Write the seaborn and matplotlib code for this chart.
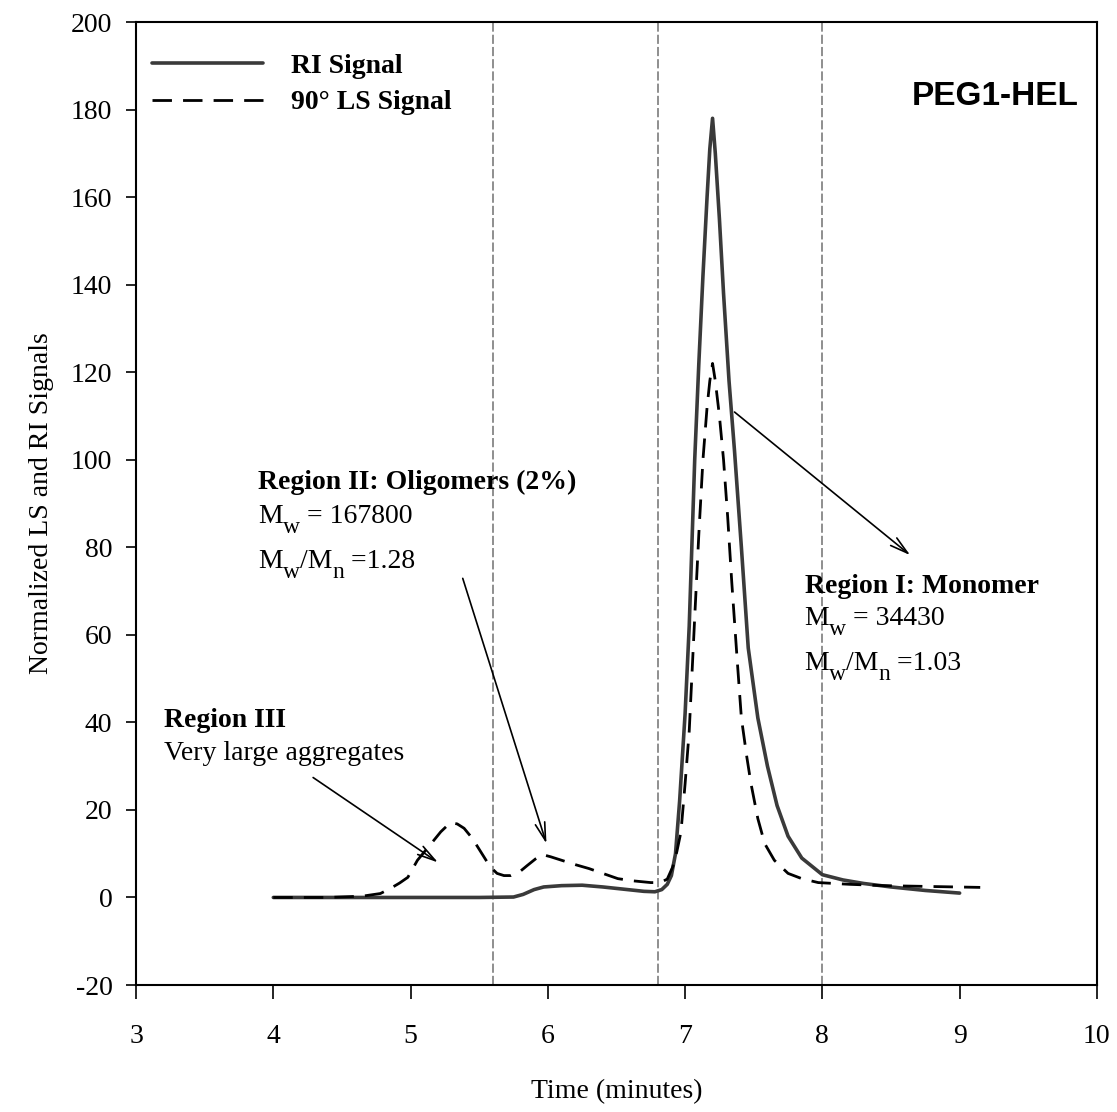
import matplotlib
matplotlib.use("Agg")
import matplotlib.pyplot as plt
import seaborn as sns

# RI signal (solid)
ri_time = [4.0, 4.5, 5.0, 5.5, 5.75, 5.82, 5.9, 5.97, 6.1, 6.25, 6.4, 6.55, 6.7, 6.78,
           6.83, 6.87, 6.9, 6.93, 6.96, 7.0, 7.03, 7.07, 7.1, 7.13, 7.16, 7.18, 7.2,
           7.22, 7.25, 7.28, 7.32, 7.36, 7.41, 7.46, 7.53, 7.6, 7.67, 7.75, 7.85, 8.0,
           8.15, 8.3, 8.5, 8.75, 9.0]
ri_signal = [0, 0, 0, 0, 0.1, 0.7, 1.8, 2.4, 2.7, 2.8, 2.4, 1.9, 1.4, 1.3,
             1.8, 3.0, 5.0, 10, 22, 42, 62, 100, 122, 142, 160, 171, 178,
             170, 155, 138, 118, 102, 80, 57, 41, 30, 21, 14, 9, 5.2,
             4.0, 3.2, 2.4, 1.6, 1.0]

# 90 deg light scattering signal (dashed)
ls_time = [4.0, 4.4, 4.65, 4.78, 4.85, 4.92, 4.98, 5.05, 5.15, 5.22, 5.29, 5.34, 5.39,
           5.45, 5.5, 5.58, 5.63, 5.68, 5.73, 5.8, 5.85, 5.91, 5.96, 6.02, 6.1, 6.2,
           6.3, 6.4, 6.51, 6.62, 6.75, 6.82, 6.87, 6.91, 6.94, 6.97, 7.0, 7.03, 7.07,
           7.1, 7.13, 7.16, 7.18, 7.2, 7.22, 7.25, 7.28, 7.31, 7.34, 7.38, 7.41, 7.45,
           7.48, 7.53, 7.58, 7.65, 7.75, 7.85, 7.97, 8.2, 8.45, 8.8, 9.15]
ls_signal = [0, 0, 0.3, 0.9, 2.0, 3.3, 4.6, 8.5, 12.3, 15, 17.1, 16.8, 15.8,
             13.5, 11, 7, 5.5, 5.0, 5.0, 6.0, 7.3, 8.8, 9.8, 9.3, 8.5, 7.5,
             6.6, 5.5, 4.3, 3.8, 3.4, 3.4, 4.2, 7, 10.5, 15, 26, 38, 64,
             83, 100, 112, 118, 122, 118, 110, 100, 87, 72, 54, 41, 32,
             26, 18, 12.3, 8.5, 5.5, 4.3, 3.4, 3.0, 2.7, 2.5, 2.3]

region_bounds = [5.6, 6.8, 8.0]

sns.set_style("ticks")
plt.rcParams["font.family"] = ["Liberation Serif", "DejaVu Serif"]
plt.rcParams["axes.unicode_minus"] = False
for key in ["text.color", "axes.labelcolor", "xtick.color", "ytick.color", "axes.edgecolor"]:
    plt.rcParams[key] = "black"

fig = plt.figure(figsize=(11.17, 11.12), dpi=100)
ax = fig.add_axes([0.1218, 0.1142, 0.8602, 0.8660])

for xb in region_bounds:
    ax.axvline(xb, color="#707070", lw=1.1, linestyle=(0, (6, 2)), zorder=1)

sns.lineplot(x=ri_time, y=ri_signal, ax=ax, color="#3a3a3a", lw=2.6,
             label="RI Signal", zorder=3)
sns.lineplot(x=ls_time, y=ls_signal, ax=ax, color="black", lw=2.0,
             label="90° LS Signal", zorder=3)
ax.lines[-1].set_dashes((7, 4))

ax.set_xlim(3, 10)
ax.set_ylim(-20, 200)
ax.set_xticks(range(3, 11))
ax.set_yticks(range(-20, 201, 20))
ax.tick_params(axis="x", direction="out", length=10, width=1.2, labelsize=20, pad=18)
ax.tick_params(axis="y", direction="out", length=7, width=1.2, labelsize=20, pad=10)
for s in ax.spines.values():
    s.set_linewidth(1.5)

ax.set_xlabel("Time (minutes)", fontsize=20, labelpad=22)
ax.set_ylabel("Normalized LS and RI Signals", fontsize=20, labelpad=12)

leg = ax.legend(loc="upper left", bbox_to_anchor=(0.005, 0.979), borderaxespad=0,
                frameon=False, handlelength=4.0, handletextpad=1.0, labelspacing=0.4,
                prop={"family": "Liberation Serif", "weight": "bold", "size": 20})
leg.get_lines()[1].set_dashes((7, 4))

ax.text(9.87, 183, "PEG1-HEL", ha="right", va="center", fontsize=24,
        fontweight="bold", family="Liberation Sans")

fs = 20
sub_fs = 17
drop = 6


def sub_text(x, y, parts):
    # parts: list of (string, is_subscript); chained so subscripts sit low
    prev = ax.text(x, y, parts[0][0], fontsize=fs, va="baseline")
    prev_sub = False
    for s, sub in parts[1:]:
        dy = 0
        if sub and not prev_sub:
            dy = -drop
        elif prev_sub and not sub:
            dy = drop
        prev = ax.annotate(s, xy=(1, 0), xycoords=prev, xytext=(0, dy),
                           textcoords="offset points", ha="left", va="bottom",
                           fontsize=sub_fs if sub else fs)
        prev_sub = sub


ax.text(3.89, 93.3, "Region II: Oligomers (2%)", fontsize=fs, fontweight="bold", va="baseline")
sub_text(3.89, 85.5, [("M", False), ("w", True), (" = 167800", False)])
sub_text(3.89, 75.2, [("M", False), ("w", True), ("/M", False), ("n", True), (" =1.28", False)])

ax.text(3.2, 38.9, "Region III", fontsize=fs, fontweight="bold", va="baseline")
ax.text(3.2, 31.3, "Very large aggregates", fontsize=fs, va="baseline")

ax.text(7.87, 69.5, "Region I: Monomer", fontsize=fs, fontweight="bold", va="baseline")
sub_text(7.87, 62.2, [("M", False), ("w", True), (" = 34430", False)])
sub_text(7.87, 51.9, [("M", False), ("w", True), ("/M", False), ("n", True), (" =1.03", False)])

arrow = dict(arrowstyle="->,head_length=1.3,head_width=0.35", lw=1.2, color="black",
             shrinkA=0, shrinkB=0)
ax.annotate("", xy=(5.20, 8.0), xytext=(4.29, 27.4), arrowprops=arrow)
ax.annotate("", xy=(5.99, 12.3), xytext=(5.38, 72.9), arrowprops=arrow)
ax.annotate("", xy=(8.64, 78.2), xytext=(7.36, 110.9), arrowprops=arrow)

fig.savefig("out.png", dpi=100)
